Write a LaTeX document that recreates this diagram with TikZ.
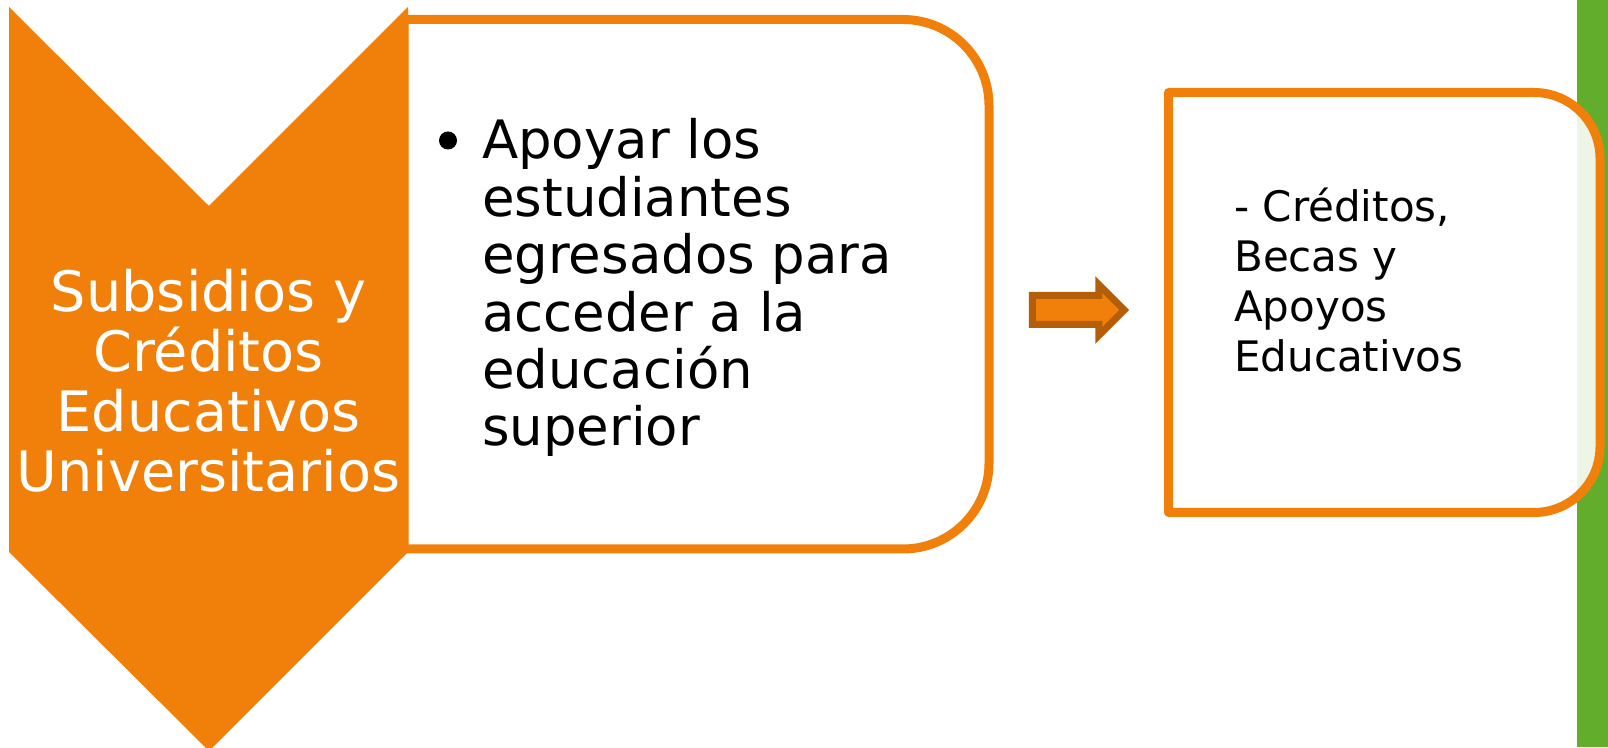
\documentclass[tikz,border=0pt]{standalone}
\usepackage{fontspec}
\setmainfont{DejaVu Sans}
\usepackage{tikz}
\usetikzlibrary{calc,positioning,shapes,arrows}
\definecolor{ochre}{RGB}{240,128,10}
\definecolor{arrowEdge}{RGB}{180,94,10}
\definecolor{barGreen}{RGB}{98,173,44}

\begin{document}
\begin{tikzpicture}[x=1pt,y=1pt,
	boxline/.style={draw=ochre,line width=9pt,line join=round},
	wtext/.style={font=\fontsize{55.7}{60.3}\selectfont,text=white,align=center,inner sep=0pt},
	bigtext/.style={font=\fontsize{52.9}{57.4}\selectfont,align=left,inner sep=0pt},
	midtext/.style={font=\fontsize{42}{50}\selectfont,align=left,inner sep=0pt}]
	\useasboundingbox (0,0) rectangle (1608,747);
	\fill[barGreen] (1577,0) rectangle (1608,747);
	% left box
	\draw[boxline,fill=white] (404,727.5) -- (903,727.5) arc[start angle=90,end angle=0,radius=86]
		-- (989,284) arc[start angle=0,end angle=-90,radius=86] -- (404,198) -- cycle;
	% right box
	\draw[boxline,fill=white,fill opacity=0.89] (1168.5,654.5) -- (1534,654.5) arc[start angle=90,end angle=0,radius=66]
		-- (1600,300.5) arc[start angle=0,end angle=-90,radius=66] -- (1168.5,234.5) -- cycle;
	% chevron
	\fill[ochre] (9,740) -- (209,541) -- (408,740) -- (408,195) -- (209,-4) -- (9,195) -- cycle;
	\node[wtext,anchor=base] (subsidios) at (208.5,255) {Subsidios y\\Créditos\\Educativos\\Universitarios};
	\node[circle,fill=black,inner sep=0pt,minimum size=18pt] (dot) at (448,606.5) {};
	\node[bigtext,anchor=base west] (apoyar) at (482,301) {Apoyar los\\estudiantes\\egresados para\\acceder a la\\educación\\superior};
	\node[single arrow,draw=arrowEdge,fill=ochre,line width=7pt,minimum height=92pt,text height=22pt,
		text depth=0pt,single arrow head extend=11pt,inner sep=0pt] (flecha) at (1071,437) {};
	\node[midtext,anchor=base west] (creditos) at (1234,375) {- Créditos,\\Becas y\\Apoyos\\Educativos};
\end{tikzpicture}
\end{document}
